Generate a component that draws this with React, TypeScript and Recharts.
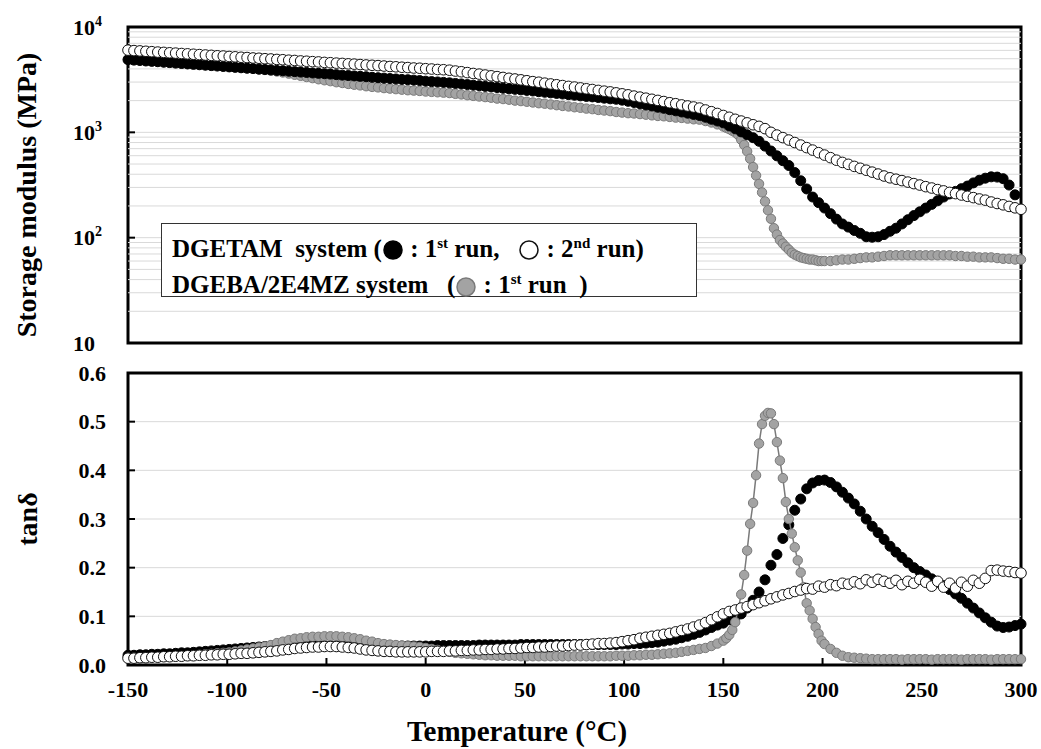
import React from "react";
import {
  ScatterChart,
  Scatter,
  XAxis,
  YAxis,
  ReferenceLine,
  ReferenceArea,
} from "recharts";

// sampling temperatures (°C) for the DGETAM runs
const temps = [
  -150, -147, -144, -141, -138, -135, -132, -129, -126, -123,
  -120, -117, -114, -111, -108, -105, -102, -99, -96, -93,
  -90, -87, -84, -81, -78, -75, -72, -69, -66, -63,
  -60, -57, -54, -51, -48, -45, -42, -39, -36, -33,
  -30, -27, -24, -21, -18, -15, -12, -9, -6, -3,
  0, 3, 6, 9, 12, 15, 18, 21, 24, 27,
  30, 33, 36, 39, 42, 45, 48, 51, 54, 57,
  60, 63, 66, 69, 72, 75, 78, 81, 84, 87,
  90, 93, 96, 99, 102, 105, 108, 111, 114, 117,
  120, 123, 126, 129, 132, 135, 138, 141, 144, 147,
  150, 153, 156, 159, 162, 165, 168, 171, 174, 177,
  180, 183, 186, 189, 192, 195, 198, 201, 204, 207,
  210, 213, 216, 219, 222, 225, 228, 231, 234, 237,
  240, 243, 246, 249, 252, 255, 258, 261, 264, 267,
  270, 273, 276, 279, 282, 285, 288, 291, 294, 297,
  300,
];

// sampling temperatures (°C) for the DGEBA/2E4MZ run
const tempsGray = [
  -150, -147, -144, -141, -138, -135, -132, -129, -126, -123,
  -120, -117, -114, -111, -108, -105, -102, -99, -96, -93,
  -90, -87, -84, -81, -78, -75, -72, -69, -66, -63,
  -60, -57, -54, -51, -48, -45, -42, -39, -36, -33,
  -30, -27, -24, -21, -18, -15, -12, -9, -6, -3,
  0, 3, 6, 9, 12, 15, 18, 21, 24, 27,
  30, 33, 36, 39, 42, 45, 48, 51, 54, 57,
  60, 63, 66, 69, 72, 75, 78, 81, 84, 87,
  90, 93, 96, 99, 102, 105, 108, 111, 114, 117,
  120, 123, 126, 129, 132, 135, 138, 141, 144, 147,
  150, 151.5, 153, 154.5, 156, 157.5, 159, 160.5, 162, 163.5,
  165, 166.5, 168, 169.5, 171, 172.5, 174, 175.5, 177, 178.5,
  180, 181.5, 183, 184.5, 186, 187.5, 189, 190.5, 192, 193.5,
  195, 196.5, 198, 199.5, 201, 204, 207, 210, 213, 216,
  219, 222, 225, 228, 231, 234, 237, 240, 243, 246,
  249, 252, 255, 258, 261, 264, 267, 270, 273, 276,
  279, 282, 285, 288, 291, 294, 297, 300,
];

// storage modulus (MPa)
const modulusRun1 = [
  4900, 4850, 4810, 4760, 4720, 4680, 4630, 4590, 4540, 4500,
  4460, 4420, 4380, 4340, 4300, 4260, 4220, 4180, 4140, 4100,
  4060, 4030, 3980, 3950, 3910, 3870, 3840, 3800, 3770, 3730,
  3700, 3660, 3630, 3600, 3570, 3530, 3490, 3460, 3430, 3400,
  3370, 3330, 3300, 3270, 3240, 3210, 3180, 3160, 3130, 3100,
  3060, 3030, 3010, 2980, 2950, 2910, 2880, 2840, 2800, 2770,
  2730, 2700, 2660, 2620, 2590, 2560, 2530, 2500, 2470, 2430,
  2400, 2370, 2340, 2310, 2280, 2250, 2220, 2190, 2170, 2140,
  2110, 2080, 2060, 2020, 1970, 1920, 1870, 1820, 1780, 1730,
  1690, 1640, 1600, 1560, 1520, 1480, 1445, 1390, 1330, 1280,
  1230, 1150, 1080, 1010, 948, 889, 822, 740, 665, 598,
  538, 484, 415, 347, 290, 243, 215, 191, 169, 150,
  135, 126, 117, 110, 102, 101, 102, 107, 115, 123,
  135, 148, 162, 176, 191, 207, 224, 243, 260, 275,
  292, 309, 331, 351, 367, 378, 376, 363, 316, 255,
  null,
];

const modulusRun2 = [
  6030, 5970, 5930, 5880, 5830, 5780, 5740, 5690, 5650, 5600,
  5560, 5510, 5470, 5420, 5380, 5330, 5300, 5250, 5210, 5160,
  5130, 5080, 5050, 5000, 4970, 4920, 4890, 4840, 4810, 4760,
  4730, 4690, 4660, 4610, 4580, 4540, 4510, 4470, 4440, 4400,
  4360, 4330, 4300, 4260, 4220, 4190, 4150, 4120, 4080, 4060,
  4020, 3990, 3950, 3930, 3890, 3820, 3760, 3690, 3620, 3570,
  3500, 3440, 3380, 3320, 3260, 3210, 3150, 3090, 3030, 2990,
  2930, 2880, 2830, 2780, 2730, 2690, 2640, 2590, 2550, 2500,
  2460, 2420, 2370, 2320, 2270, 2210, 2160, 2110, 2060, 2010,
  1960, 1910, 1870, 1820, 1780, 1740, 1700, 1630, 1570, 1510,
  1445, 1390, 1330, 1280, 1230, 1180, 1140, 1084, 1000, 942,
  891, 845, 800, 757, 716, 678, 641, 608, 575, 544,
  518, 497, 475, 456, 437, 419, 402, 385, 370, 359,
  348, 337, 326, 316, 305, 296, 286, 278, 269, 262,
  254, 247, 240, 233, 227, 218, 211, 205, 198, 192,
  186,
];

const modulusGray = [
  4900, 4850, 4810, 4760, 4720, 4680, 4630, 4590, 4540, 4500,
  4460, 4420, 4380, 4340, 4300, 4260, 4220, 4180, 4140, 4100,
  4060, 4030, 3960, 3910, 3850, 3780, 3700, 3610, 3520, 3440,
  3350, 3270, 3190, 3120, 3060, 2990, 2940, 2880, 2830, 2790,
  2740, 2700, 2670, 2630, 2600, 2570, 2540, 2510, 2490, 2470,
  2440, 2420, 2400, 2380, 2360, 2320, 2290, 2250, 2220, 2190,
  2160, 2130, 2090, 2070, 2040, 2000, 1980, 1950, 1920, 1890,
  1870, 1840, 1810, 1780, 1760, 1730, 1710, 1680, 1660, 1630,
  1610, 1590, 1560, 1540, 1520, 1510, 1490, 1470, 1450, 1430,
  1420, 1400, 1380, 1370, 1350, 1330, 1320, 1280, 1240, 1190,
  1135, 1104, 1072, 1035, 1000, 944, 851, 759, 661, 562,
  468, 389, 324, 269, 221, 182, 151, 123, 107, 95,
  88, 82, 77, 72, 69, 67, 65, 64, 63, 62,
  62, 61, 60, 60, 60, 60, 61, 62, 62, 63,
  64, 65, 65, 66, 67, 68, 68, 68, 68, 68,
  68, 68, 68, 68, 68, 68, 67, 67, 66, 66,
  65, 65, 65, 64, 63, 63, 62, 62,
];

// tan delta
const tanRun1 = [
  0.02, 0.02, 0.021, 0.021, 0.022, 0.022, 0.023, 0.023, 0.024, 0.025,
  0.025, 0.026, 0.027, 0.028, 0.029, 0.03, 0.031, 0.032, 0.033, 0.034,
  0.035, 0.036, 0.037, 0.038, 0.039, 0.039, 0.039, 0.039, 0.04, 0.04,
  0.04, 0.04, 0.04, 0.039, 0.039, 0.039, 0.039, 0.039, 0.039, 0.039,
  0.039, 0.039, 0.039, 0.039, 0.039, 0.039, 0.039, 0.039, 0.039, 0.039,
  0.039, 0.039, 0.04, 0.04, 0.04, 0.04, 0.04, 0.04, 0.04, 0.041,
  0.041, 0.041, 0.041, 0.041, 0.041, 0.041, 0.042, 0.042, 0.042, 0.042,
  0.042, 0.042, 0.042, 0.042, 0.042, 0.042, 0.042, 0.042, 0.042, 0.042,
  0.042, 0.042, 0.042, 0.043, 0.043, 0.044, 0.044, 0.045, 0.046, 0.047,
  0.049, 0.051, 0.053, 0.056, 0.059, 0.063, 0.067, 0.072, 0.077, 0.082,
  0.086, 0.093, 0.098, 0.105, 0.117, 0.133, 0.15, 0.175, 0.205, 0.227,
  0.26, 0.288, 0.318, 0.341, 0.362, 0.374, 0.379, 0.38, 0.375, 0.366,
  0.355, 0.343, 0.331, 0.316, 0.3, 0.285, 0.272, 0.258, 0.244, 0.232,
  0.221, 0.21, 0.2, 0.192, 0.185, 0.177, 0.17, 0.163, 0.155, 0.146,
  0.137, 0.127, 0.117, 0.107, 0.097, 0.088, 0.08, 0.077, 0.078, 0.081,
  0.084,
];

const tanRun2 = [
  0.014, 0.014, 0.015, 0.015, 0.016, 0.016, 0.017, 0.017, 0.018, 0.018,
  0.019, 0.019, 0.02, 0.02, 0.021, 0.021, 0.022, 0.022, 0.023, 0.024,
  0.024, 0.025, 0.026, 0.027, 0.028, 0.029, 0.031, 0.032, 0.034, 0.035,
  0.036, 0.037, 0.037, 0.038, 0.038, 0.038, 0.037, 0.036, 0.035, 0.033,
  0.031, 0.03, 0.029, 0.028, 0.028, 0.027, 0.027, 0.027, 0.027, 0.027,
  0.027, 0.028, 0.028, 0.028, 0.029, 0.029, 0.03, 0.03, 0.031, 0.031,
  0.032, 0.032, 0.033, 0.033, 0.034, 0.034, 0.035, 0.036, 0.036, 0.037,
  0.037, 0.038, 0.039, 0.039, 0.04, 0.041, 0.041, 0.042, 0.043, 0.044,
  0.044, 0.045, 0.046, 0.048, 0.05, 0.052, 0.055, 0.057, 0.059, 0.061,
  0.063, 0.065, 0.068, 0.071, 0.074, 0.078, 0.082, 0.087, 0.093, 0.099,
  0.105, 0.11, 0.113, 0.117, 0.12, 0.124, 0.128, 0.132, 0.136, 0.14,
  0.144, 0.147, 0.151, 0.154, 0.157, 0.156, 0.162, 0.16, 0.165, 0.163,
  0.168, 0.166, 0.171, 0.167, 0.175, 0.17, 0.176, 0.172, 0.168, 0.174,
  0.165, 0.172, 0.168, 0.176, 0.17, 0.162, 0.172, 0.16, 0.168, 0.158,
  0.17, 0.162, 0.174, 0.168, 0.178, 0.194, 0.195, 0.193, 0.192, 0.19,
  0.189,
];

const tanGray = [
  0.015, 0.015, 0.015, 0.016, 0.016, 0.016, 0.017, 0.017, 0.018, 0.018,
  0.019, 0.02, 0.021, 0.022, 0.023, 0.024, 0.025, 0.026, 0.028, 0.03,
  0.032, 0.034, 0.036, 0.038, 0.041, 0.045, 0.048, 0.051, 0.054, 0.055,
  0.057, 0.058, 0.058, 0.059, 0.059, 0.059, 0.058, 0.057, 0.055, 0.053,
  0.05, 0.048, 0.045, 0.043, 0.042, 0.041, 0.04, 0.039, 0.038, 0.037,
  0.035, 0.033, 0.031, 0.029, 0.027, 0.025, 0.024, 0.023, 0.022, 0.021,
  0.02, 0.02, 0.019, 0.019, 0.019, 0.019, 0.018, 0.018, 0.018, 0.018,
  0.018, 0.018, 0.018, 0.018, 0.018, 0.018, 0.018, 0.018, 0.018, 0.018,
  0.018, 0.018, 0.019, 0.019, 0.019, 0.02, 0.02, 0.021, 0.021, 0.022,
  0.023, 0.024, 0.025, 0.027, 0.029, 0.031, 0.033, 0.035, 0.039, 0.044,
  0.05, 0.055, 0.062, 0.072, 0.088, 0.115, 0.145, 0.185, 0.235, 0.29,
  0.333, 0.39, 0.455, 0.495, 0.512, 0.518, 0.517, 0.495, 0.458, 0.42,
  0.384, 0.335, 0.3, 0.27, 0.242, 0.215, 0.19, 0.16, 0.127, 0.112,
  0.095, 0.078, 0.064, 0.05, 0.043, 0.033, 0.025, 0.019, 0.016, 0.015,
  0.014, 0.013, 0.012, 0.012, 0.012, 0.012, 0.012, 0.011, 0.012, 0.012,
  0.012, 0.012, 0.011, 0.012, 0.012, 0.012, 0.012, 0.011, 0.012, 0.012,
  0.012, 0.012, 0.011, 0.012, 0.012, 0.012, 0.012, 0.012,
];

const tempTicks = [-150, -100, -50, 0, 50, 100, 150, 200, 250, 300];
const modulusTicks = [10, 100, 1000, 10000];
const modulusGrid = [
  20, 30, 40, 50, 60, 70, 80, 90, 100,
  200, 300, 400, 500, 600, 700, 800, 900, 1000,
  2000, 3000, 4000, 5000, 6000, 7000, 8000, 9000,
];
const tanTicks = [0, 0.1, 0.2, 0.3, 0.4, 0.5, 0.6];
const tanGrid = [0.1, 0.2, 0.3, 0.4, 0.5];

const FONT = "Liberation Serif, DejaVu Serif, Times New Roman, serif";
const GRID = "#d9d9d9";

const rows = (ts: number[], vs: (number | null)[]) =>
  ts.map((t, i) => ({ t, v: vs[i] })).filter((d) => d.v != null);

const dot = (fill: string, stroke: string, r: number) => (p: any) =>
  <circle cx={p.cx} cy={p.cy} r={r} fill={fill} stroke={stroke} strokeWidth={1} />;

const blackDot = dot("#000", "#000", 5);
const whiteDot = dot("#fff", "#111", 5.3);
const grayDot = dot("#a3a3a3", "#7a7a7a", 4.7);

const tickFont = { fontFamily: FONT, fontWeight: 700, fontSize: 22, fill: "#000" };

function LogTick(props: any) {
  const { x, y, payload } = props;
  const exp = Math.round(Math.log10(payload.value));
  return (
    <text x={x - 33} y={y} dy="0.35em" textAnchor="start" {...tickFont}>
      <tspan>10</tspan>
      {exp > 1 && (
        <tspan dy={-9} fontSize={14}>
          {exp}
        </tspan>
      )}
    </text>
  );
}

function Circle({ fill, stroke }: { fill: string; stroke: string }) {
  return (
    <svg width={22} height={22} style={{ verticalAlign: "-4px" }}>
      <circle cx={11} cy={11} r={9} fill={fill} stroke={stroke} strokeWidth={1.5} />
    </svg>
  );
}

export default function App() {
  return (
    <div
      style={{
        position: "absolute",
        left: 0,
        top: 0,
        width: 1041,
        height: 749,
        background: "#fff",
        fontFamily: FONT,
        fontWeight: 700,
      }}
    >
      {/* storage modulus */}
      <div style={{ position: "absolute", left: 0, top: 0 }}>
        <ScatterChart width={1041} height={360} margin={{ top: 27, right: 20, bottom: 16, left: 0 }}>
          <XAxis
            type="number"
            dataKey="t"
            domain={[-150, 300]}
            ticks={tempTicks}
            interval={0}
            tick={false}
            tickSize={-7}
            tickLine={{ stroke: "#000", strokeWidth: 2 }}
            axisLine={false}
            height={1}
          />
          <YAxis
            type="number"
            dataKey="v"
            scale="log"
            domain={[10, 10000]}
            ticks={modulusTicks}
            interval={0}
            width={128}
            tickSize={-7}
            tickMargin={29}
            tick={<LogTick />}
            tickLine={{ stroke: "#000", strokeWidth: 2 }}
            axisLine={false}
          />
          {modulusGrid.map((g) => (
            <ReferenceLine key={g} y={g} stroke={GRID} strokeWidth={1} />
          ))}
          <ReferenceArea x1={-150} x2={300} y1={10} y2={10000} fill="none" stroke="#000" strokeWidth={3} />
          <Scatter data={rows(tempsGray, modulusGray)} shape={grayDot} isAnimationActive={false} />
          <Scatter data={rows(temps, modulusRun1)} shape={blackDot} isAnimationActive={false} />
          <Scatter data={rows(temps, modulusRun2)} shape={whiteDot} isAnimationActive={false} />
        </ScatterChart>
      </div>

      {/* tan delta */}
      <div style={{ position: "absolute", left: 0, top: 360 }}>
        <ScatterChart width={1041} height={389} margin={{ top: 13, right: 20, bottom: 34, left: 0 }}>
          <XAxis
            type="number"
            dataKey="t"
            domain={[-150, 300]}
            ticks={tempTicks}
            interval={0}
            tickSize={-7}
            tickMargin={23}
            tick={tickFont}
            tickLine={{ stroke: "#000", strokeWidth: 2 }}
            axisLine={false}
            height={50}
          />
          <YAxis
            type="number"
            dataKey="v"
            domain={[0, 0.6]}
            ticks={tanTicks}
            interval={0}
            width={128}
            tickSize={-7}
            tickMargin={29}
            tickFormatter={(v: number) => v.toFixed(1)}
            tick={tickFont}
            tickLine={{ stroke: "#000", strokeWidth: 2 }}
            axisLine={false}
          />
          {tanGrid.map((g) => (
            <ReferenceLine key={g} y={g} stroke={GRID} strokeWidth={1} />
          ))}
          <ReferenceArea x1={-150} x2={300} y1={0} y2={0.6} fill="none" stroke="#000" strokeWidth={3} />
          <Scatter data={rows(temps, tanRun1)} shape={blackDot} isAnimationActive={false} />
          <Scatter
            data={rows(tempsGray, tanGray)}
            shape={grayDot}
            line={{ stroke: "#7a7a7a", strokeWidth: 1.5 }}
            lineType="joint"
            isAnimationActive={false}
          />
          <Scatter data={rows(temps, tanRun2)} shape={whiteDot} isAnimationActive={false} />
        </ScatterChart>
      </div>

      {/* axis titles */}
      <div
        style={{
          position: "absolute",
          left: 27,
          top: 195,
          transform: "translate(-50%, -50%) rotate(-90deg)",
          whiteSpace: "nowrap",
          fontSize: 28,
        }}
      >
        Storage modulus (MPa)
      </div>
      <div
        style={{
          position: "absolute",
          left: 28,
          top: 519,
          transform: "translate(-50%, -50%) rotate(-90deg)",
          whiteSpace: "nowrap",
          fontSize: 28,
        }}
      >
        tanδ
      </div>
      <div
        style={{
          position: "absolute",
          left: 517,
          top: 731,
          transform: "translate(-50%, -50%)",
          whiteSpace: "nowrap",
          fontSize: 29,
        }}
      >
        Temperature (°C)
      </div>

      {/* legend */}
      <div
        style={{
          position: "absolute",
          left: 161,
          top: 223,
          width: 536,
          height: 74,
          boxSizing: "border-box",
          border: "1.5px solid #333",
          background: "#fff",
          fontSize: 25,
          lineHeight: "31px",
          padding: "4px 0 0 10px",
          whiteSpace: "pre",
        }}
      >
        <div>
          {"DGETAM  system ("}
          <Circle fill="#000" stroke="#000" />
          {" : 1"}
          <sup style={{ fontSize: 15 }}>st</sup>
          {" run,   "}
          <Circle fill="#fff" stroke="#111" />
          {" : 2"}
          <sup style={{ fontSize: 15 }}>nd</sup>
          {" run)"}
        </div>
        <div>
          {"DGEBA/2E4MZ system   ("}
          <Circle fill="#a3a3a3" stroke="#7a7a7a" />
          {" : 1"}
          <sup style={{ fontSize: 15 }}>st</sup>
          {" run  )"}
        </div>
      </div>
    </div>
  );
}
